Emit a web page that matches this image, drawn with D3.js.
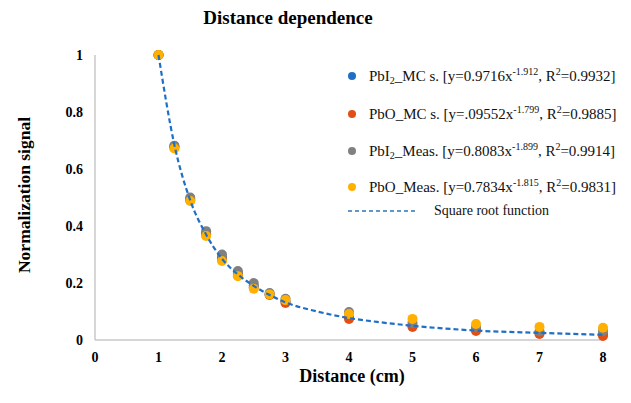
<!DOCTYPE html>
<html>
<head>
<meta charset="utf-8">
<script src="https://cdn.jsdelivr.net/npm/d3@7"></script>
<style>
body{margin:0;background:#fff}
text{font-family:"Liberation Serif","Times New Roman",serif}
</style>
</head>
<body>
<svg width="631" height="403"></svg>
<script>
// distances (cm)
var distances = [1, 1.25, 1.5, 1.75, 2, 2.25, 2.5, 2.75, 3, 4, 5, 6, 7, 8]
// normalized signals
var pbi2MC   = [1, 0.68, 0.495, 0.375, 0.29, 0.235, 0.19, 0.16, 0.135, 0.08, 0.05, 0.036, 0.026, 0.02]
var pboMC    = [1, 0.675, 0.49, 0.37, 0.283, 0.228, 0.185, 0.158, 0.13, 0.074, 0.046, 0.032, 0.021, 0.014]
var pbi2Meas = [1, 0.682, 0.5, 0.382, 0.3, 0.242, 0.2, 0.165, 0.145, 0.098, 0.06, 0.045, 0.03, 0.032]
var pboMeas  = [1, 0.672, 0.488, 0.365, 0.277, 0.224, 0.18, 0.16, 0.14, 0.091, 0.074, 0.056, 0.046, 0.043]
// dashed curve
var curveX = [1, 1.25, 1.5, 1.75, 2, 2.25, 2.5, 2.75, 3, 3.5, 4, 4.5, 5, 6, 7, 8]
var curveY = [1, 0.685, 0.49, 0.37, 0.285, 0.23, 0.19, 0.158, 0.132, 0.1, 0.077, 0.062, 0.05, 0.033, 0.025, 0.018]
var xTicks = [0, 1, 2, 3, 4, 5, 6, 7, 8]
var yTicks = [0, 0.2, 0.4, 0.6, 0.8, 1]

var series = [
  {name: "PbI", sub: "2", rest: "_MC s. [y=0.9716x", exp: "-1.912", tail: ", R", r2: "=0.9932]", vals: pbi2MC, color: "#1f6fc5"},
  {name: "PbO_MC s. [y=.09552x", sub: null, rest: "", exp: "-1.799", tail: ", R", r2: "=0.9885]", vals: pboMC, color: "#e24e14"},
  {name: "PbI", sub: "2", rest: "_Meas. [y=0.8083x", exp: "-1.899", tail: ", R", r2: "=0.9914]", vals: pbi2Meas, color: "#808080"},
  {name: "PbO_Meas. [y=0.7834x", sub: null, rest: "", exp: "-1.815", tail: ", R", r2: "=0.9831]", vals: pboMeas, color: "#ffb000"}
]

var svg = d3.select("svg")
var x = d3.scaleLinear().domain([0, 8]).range([95, 603])
var y = d3.scaleLinear().domain([0, 1]).range([340, 55])

// axis lines
svg.append("line").attr("x1", x(0)).attr("x2", x(0)).attr("y1", y(1)).attr("y2", y(0))
  .attr("stroke", "#c8c8c8").attr("stroke-width", 1.5)
svg.append("line").attr("x1", x(0)).attr("x2", x(8)).attr("y1", y(0)).attr("y2", y(0))
  .attr("stroke", "#c8c8c8").attr("stroke-width", 1.5)

svg.selectAll(".xt").data(xTicks).enter().append("text")
  .attr("x", function(d){return x(d)}).attr("y", 362)
  .attr("text-anchor", "middle").attr("font-size", 14).attr("font-weight", "bold")
  .text(function(d){return d})
svg.selectAll(".yt").data(yTicks).enter().append("text")
  .attr("x", 83).attr("y", function(d){return y(d) + 5})
  .attr("text-anchor", "end").attr("font-size", 14).attr("font-weight", "bold")
  .text(function(d){return d})

// titles
svg.append("text").attr("x", 288).attr("y", 24).attr("text-anchor", "middle")
  .attr("font-size", 19).attr("font-weight", "bold").text("Distance dependence")
svg.append("text").attr("x", 352).attr("y", 382).attr("text-anchor", "middle")
  .attr("font-size", 18).attr("font-weight", "bold").text("Distance (cm)")
svg.append("text").attr("transform", "translate(30,195) rotate(-90)").attr("text-anchor", "middle")
  .attr("font-size", 17.5).attr("font-weight", "bold").text("Normalization signal")

// points
series.forEach(function(s){
  svg.append("g").selectAll("circle").data(s.vals).enter().append("circle")
    .attr("cx", function(d, i){return x(distances[i])})
    .attr("cy", function(d){return y(d)})
    .attr("r", 5).attr("fill", s.color)
})

// dashed curve
var line = d3.line().x(function(d){return x(d[0])}).y(function(d){return y(d[1])}).curve(d3.curveMonotoneX)
svg.append("path").datum(d3.zip(curveX, curveY)).attr("d", line)
  .attr("fill", "none").attr("stroke", "#1f6fc5").attr("stroke-width", 2.2).attr("stroke-dasharray", "5,3")

// legend
var rowsY = [76, 114, 151, 187]
series.forEach(function(s, i){
  var g = svg.append("g")
  g.append("circle").attr("cx", 352).attr("cy", rowsY[i]).attr("r", 4).attr("fill", s.color)
  var t = g.append("text").attr("x", 369).attr("y", rowsY[i] + 5).attr("font-size", 15).attr("fill", "#111")
  t.append("tspan").text(s.name)
  if (s.sub) t.append("tspan").attr("font-size", 10).attr("dy", 3).text(s.sub)
  if (s.sub) t.append("tspan").attr("dy", -3).text(s.rest)
  t.append("tspan").attr("font-size", 10).attr("dy", -6).text(s.exp)
  t.append("tspan").attr("dy", 6).text(s.tail)
  t.append("tspan").attr("font-size", 10).attr("dy", -6).text("2")
  t.append("tspan").attr("dy", 6).text(s.r2)
})
svg.append("line").attr("x1", 348).attr("x2", 415).attr("y1", 211).attr("y2", 211)
  .attr("stroke", "#2e75b6").attr("stroke-width", 1.3).attr("stroke-dasharray", "4,3")
svg.append("text").attr("x", 434).attr("y", 215).attr("font-size", 14).attr("fill", "#111").text("Square root function")
</script>
</body>
</html>
